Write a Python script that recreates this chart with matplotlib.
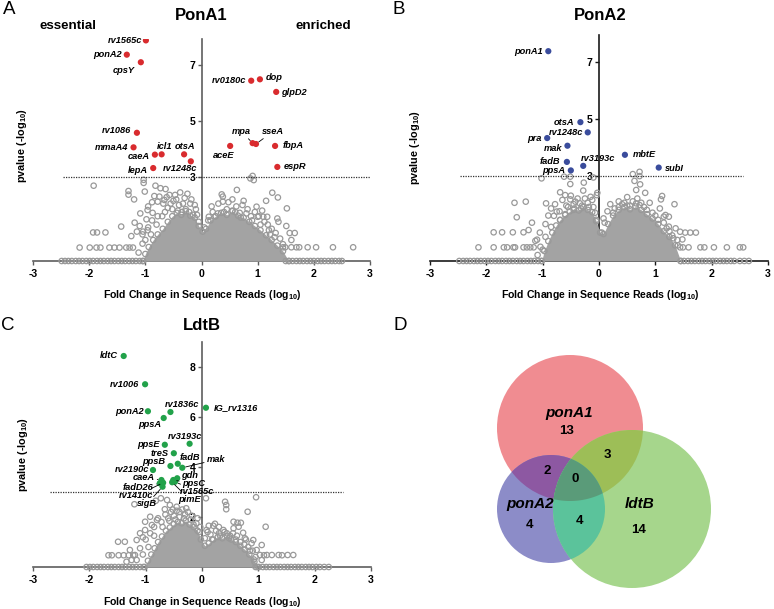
import numpy as np
import matplotlib
matplotlib.use('Agg')
import matplotlib.pyplot as plt
from matplotlib.patches import Circle, Polygon

plt.rcParams['font.family'] = ['Liberation Sans', 'DejaVu Sans']
plt.rcParams['mathtext.fontset'] = 'custom'
plt.rcParams['mathtext.rm'] = 'Liberation Sans:bold'
plt.rcParams['mathtext.bf'] = 'Liberation Sans:bold'
plt.rcParams['axes.unicode_minus'] = False

W, H = 774, 609

# ---------------- data ----------------
# PonA1 hits (fold change log10, -log10 pvalue)
ponA1_genes = ['rv1565c', 'ponA2', 'cpsY', 'rv0180c', 'dop', 'glpD2', 'rv1086', 'mmaA4', 'caeA',
               'icl1', 'otsA', 'rv1248c', 'lepA', 'aceE', 'mpa', 'sseA', 'fbpA', 'espR']
ponA1_x = [-0.99, -1.33, -1.08, 0.885, 1.04, 1.33, -1.15, -1.21, -0.83,
           -0.71, -0.31, -0.19, -0.86, 0.51, 0.91, 0.97, 1.31, 1.35]
ponA1_y = [7.88, 7.37, 7.10, 6.44, 6.49, 6.04, 4.58, 4.06, 3.80,
           3.81, 3.81, 3.56, 3.32, 4.11, 4.21, 4.18, 4.11, 3.36]

ponA2_genes = ['ponA1', 'otsA', 'rv1248c', 'pra', 'mak', 'fadB', 'ppsA', 'rv3193c', 'mbtE', 'subI']
ponA2_x = [-0.90, -0.33, -0.20, -0.92, -0.56, -0.57, -0.50, -0.28, 0.46, 1.06]
ponA2_y = [7.39, 4.89, 4.53, 4.33, 4.06, 3.49, 3.19, 3.35, 3.74, 3.29]

ldtB_genes = ['ldtC', 'rv1006', 'rv1836c', 'IG_rv1316', 'ponA2', 'ppsA', 'rv3193c', 'ppsE', 'treS',
              'fadB', 'mak', 'ppsB', 'rv2190c', 'caeA', 'fadD26', 'rv1410c', 'sigB',
              'gdh', 'ppsC', 'rv1565c', 'pimE']
ldtB_x = [-1.39, -1.01, -0.56, 0.07, -0.96, -0.68, -0.22, -0.66, -0.50,
          -0.43, -0.35, -0.56, -0.87, -0.72, -0.75, -0.69, -0.70,
          -0.44, -0.51, -0.48, -0.53]
ldtB_y = [8.44, 7.31, 6.20, 6.37, 6.23, 5.96, 4.93, 4.89, 4.55,
          4.13, 3.97, 4.04, 3.88, 3.48, 3.35, 3.37, 3.21,
          3.55, 3.48, 3.41, 3.39]

# background genes (grey rings)
a_bg_x = [-1.92, -1.30, -1.30, -1.03, -1.03, -0.82, -0.73, -0.64, -1.01, -1.20, -0.84, -0.78, -0.66,
          -0.57, -0.47, -0.96, -1.09, -0.98, -0.87, -1.43, -1.93, -1.86, -1.71, -1.15, -1.04, -0.96,
          -1.25, -1.19, -1.10, -2.17, -1.99, -1.87, -1.80, -1.64, -1.55, -1.46, -1.34, -1.28, -1.22,
          -1.12, -1.05, 0.91, 0.87, 0.93, 0.63, 1.26, 1.36, 0.38, 0.38, 0.55, 1.15, 1.52, 0.73, 0.98,
          1.08, 1.00, 1.10, 1.17, 1.35, 1.37, 1.51, 0.29, 0.13, 0.36, 1.45, 1.49, 1.60, 1.69, 1.74,
          1.89, 2.04, 2.34, 2.70, 1.57, 1.66, 1.60, -0.50, -0.40, -0.30, -0.20, -0.10, -0.60, -0.70,
          -0.35, -0.15, -0.05, 0.20, 0.45, 0.60, 0.80, 0.90, 1.05, 1.20, 1.30, 0.05, -0.80, -0.90, -1.00,
          -0.95, -0.88, -0.75, -0.68, -0.62, -0.55, -0.52, -0.45, -0.42, -0.38, -0.33, -0.28, -0.25,
          -0.22, -0.18, -0.12, -0.08, -0.65, -0.78, -0.88, -0.95, -1.05, 0.12, 0.18, 0.25, 0.30, 0.40,
          0.48, 0.55, 0.62, 0.68, 0.75, 0.82, 0.88, 0.95, 1.02, 1.12, 1.18, 1.25, 1.32, 1.40, 1.45,
          1.22, 0.70]
a_bg_y = [2.69, 2.50, 2.37, 2.90, 2.79, 2.69, 2.60, 2.57, 2.48, 2.20, 2.32, 2.12, 2.18,
          2.36, 2.36, 1.82, 1.70, 1.49, 1.72, 1.23, 1.02, 1.02, 1.02, 1.05, 1.05, 1.10,
          0.89, 1.37, 1.25, 0.48, 0.48, 0.48, 0.48, 0.48, 0.48, 0.48, 0.48, 0.48, 0.48,
          0.30, 0.62, 3.04, 2.95, 2.89, 2.54, 2.44, 2.27, 2.30, 2.12, 2.20, 2.15, 1.88, 2.00, 1.94,
          1.80, 1.58, 1.58, 1.58, 1.52, 1.40, 1.25, 1.70, 1.58, 2.38, 0.49, 0.49, 0.49, 0.49, 0.49,
          0.49, 0.49, 0.49, 0.49, 1.00, 1.00, 0.75, 2.15, 2.00, 2.25, 2.05, 1.85, 1.90, 1.60,
          1.75, 1.65, 1.40, 1.75, 1.85, 1.75, 1.70, 1.45, 1.30, 1.10, 0.85, 1.20, 1.30, 0.95, 0.75,
          1.95, 2.10, 2.30, 2.05, 2.28, 2.05, 1.85, 2.20, 1.80, 2.45, 2.05, 1.85, 2.40,
          1.75, 2.20, 2.00, 1.65, 1.75, 1.60, 1.45, 1.20, 0.95, 1.45, 1.95, 1.60, 2.05, 1.75,
          2.10, 1.80, 1.95, 1.72, 2.15, 1.85, 1.60, 1.75, 1.60, 1.40, 1.30, 1.15, 1.00, 0.80, 0.60,
          0.95, 1.55]
a_zero_x = [-2.49, -2.43, -2.37, -2.31, -2.24, -2.18, -2.12, -2.05, -1.99, -1.93, -1.86, -1.80, -1.74,
            -1.67, -1.61, -1.55, -1.48, -1.42, -1.36, -1.29, -1.23, -1.17, -1.10, -1.04,
            1.50, 1.56, 1.62, 1.69, 1.75, 1.81, 1.88, 1.94, 2.00, 2.07, 2.13, 2.19, 2.26, 2.32, 2.38, 2.45, 2.50]
# outline of the dense core of the cloud
a_core_x = [-1.05, -1.00, -0.94, -0.86, -0.78, -0.69, -0.60, -0.52, -0.44, -0.36, -0.28, -0.20, -0.12,
            -0.05, 0.02, 0.08, 0.16, 0.25, 0.35, 0.45, 0.55, 0.65, 0.75, 0.85, 0.95, 1.05, 1.15, 1.25,
            1.35, 1.45, 1.55]
a_core_y = [0.0, 0.25, 0.50, 0.75, 0.95, 1.15, 1.40, 1.60, 1.72, 1.65, 1.78, 1.62, 1.55,
            1.25, 1.05, 1.15, 1.45, 1.60, 1.72, 1.65, 1.78, 1.62, 1.55, 1.40, 1.25, 1.10, 0.92, 0.75,
            0.55, 0.35, 0.0]

b_bg_x = [-1.02, -0.62, -0.51, -0.51, -0.27, -0.69, -0.60, -0.51, -0.42, -0.34, -0.28, -0.15, -0.04,
          -1.50, -1.30, -0.94, -1.46, -1.19, -1.87, -1.72, -1.53, -1.34, -1.25, -2.14, -1.87, -1.69,
          -1.63, -1.52, -1.49, -1.34, -1.28, -1.22, -1.16, -1.13, -1.04, -1.09, -0.80, -0.69, -0.75,
          0.60, 0.72, 0.72, 0.63, 0.73, 0.66, 0.82, 1.12, 1.10, 1.34, 0.41, 0.66, 0.72, 1.18, 1.24,
          1.15, 1.24, 1.36, 1.44, 1.53, 1.62, 1.72, 1.39, 1.48, 1.44, 1.49, 1.59, 1.80, 1.87, 2.04,
          2.27, 2.50, 2.56, -0.10, -0.03, -0.55, -0.45, -0.30, -0.20, -0.10, -0.60, -0.05, 0.05, 0.10,
          0.25, 0.35, 0.50, 0.60, 0.80, 0.95, 1.05, 1.20, 1.30, -0.85, -0.95, -1.00,
          -0.95, -0.90, -0.85, -0.78, -0.70, -0.65, -0.58, -0.50, -0.45, -0.38, -0.32, -0.25, -0.18,
          -0.12, -0.07, -1.05, -1.10, 0.08, 0.15, 0.20, 0.28, 0.35, 0.45, 0.50, 0.55, 0.68, 0.75,
          0.85, 0.90, 1.00, 1.08, 1.15, 1.25, 1.32, 1.40]
b_bg_y = [2.91, 2.97, 2.97, 2.71, 2.76, 2.42, 2.32, 2.17, 2.09, 2.03, 2.48, 2.26, 2.32,
          2.05, 2.09, 2.03, 1.54, 1.35, 1.01, 1.01, 1.01, 1.01, 1.09, 0.48, 0.48, 0.48,
          0.48, 0.48, 0.48, 0.48, 0.48, 0.48, 0.48, 0.71, 0.50, 0.21, 1.59, 1.44, 1.74,
          3.06, 3.14, 2.99, 2.82, 2.70, 2.50, 2.40, 2.29, 2.17, 2.00, 2.00, 2.03, 1.97, 1.62, 1.56,
          1.56, 1.21, 1.15, 1.03, 1.00, 1.00, 1.00, 0.74, 0.76, 0.48, 0.48, 0.48, 0.48, 0.48, 0.48,
          0.48, 0.48, 0.48, 2.94, 2.40, 1.90, 2.00, 1.95, 2.05, 1.90, 1.65, 1.45, 1.00, 1.35,
          1.70, 1.90, 1.95, 2.10, 1.90, 1.70, 1.45, 1.15, 0.90, 1.20, 0.85, 0.40,
          1.30, 1.60, 1.85, 2.00, 1.75, 2.15, 1.95, 2.30, 1.80, 2.20, 1.85, 2.20, 1.90,
          2.15, 1.70, 1.00, 0.75, 1.50, 1.75, 2.00, 1.85, 2.10, 2.05, 2.25, 1.95, 2.20, 2.05,
          1.80, 2.05, 1.60, 1.85, 1.35, 1.05, 0.80, 0.55]
b_zero_x = [-2.48, -2.41, -2.35, -2.29, -2.22, -2.16, -2.10, -2.03, -1.97, -1.91, -1.84, -1.78, -1.72,
            -1.65, -1.59, -1.53, -1.46, -1.40, -1.34, -1.27, -1.21, -1.15, -1.08, -1.02,
            1.45, 1.51, 1.58, 1.64, 1.70, 1.77, 1.83, 1.89, 1.96, 2.02, 2.08, 2.15, 2.21, 2.27, 2.34,
            2.40, 2.50, 2.58, 2.66]
b_core_x = [-1.02, -0.97, -0.90, -0.83, -0.76, -0.69, -0.60, -0.52, -0.44, -0.36, -0.28, -0.20, -0.12,
            -0.05, 0.02, 0.08, 0.16, 0.25, 0.35, 0.45, 0.55, 0.65, 0.75, 0.85, 0.95, 1.05, 1.15, 1.25,
            1.35, 1.45]
b_core_y = [0.0, 0.35, 0.70, 1.00, 1.25, 1.45, 1.62, 1.75, 1.85, 1.78, 1.90, 1.80, 1.72,
            1.40, 1.00, 0.95, 1.30, 1.60, 1.80, 1.90, 1.82, 1.92, 1.80, 1.65, 1.50, 1.30, 1.05, 0.85,
            0.55, 0.0]

c_bg_x = [-1.20, -0.82, -0.73, -0.62, -0.57, -0.45, -0.66, -0.92, -0.80, -1.01, -0.89, -1.01, -1.10,
          -1.05, -1.16, -1.49, -1.37, -1.28, -1.19, -1.25, -1.16, -1.34, -1.66, -1.60, -1.48, -1.39,
          -1.30, -1.22, 0.07, 0.96, 0.41, 0.43, 0.43, 0.81, 1.13, 0.08, 0.56, 0.63, 0.69, 0.65, 0.23,
          0.20, 0.38, 0.44, 0.56, 0.73, 0.76, 0.91, 0.88, 1.06, 0.97, 1.03, 1.15, 1.24, 1.36, 1.52,
          1.62, 0.93, 1.06, 1.10, 1.42, -0.60, -0.50, -0.40, -0.30, -0.20, -0.10, -0.70, -0.45, -0.35,
          -0.25, -0.55, -0.05, 0.05, 0.15, 0.30, 0.50, 0.60, 0.75, 0.85, -0.85, -0.95, -1.05,
          -1.00, -0.92, -0.85, -0.78, -0.72, -0.65, -0.58, -0.52, -0.47, -0.40, -0.32, -0.28, -0.18,
          -0.15, -0.08, -0.03, -1.10, 0.10, 0.18, 0.25, 0.32, 0.40, 0.48, 0.55, 0.62, 0.68, 0.78,
          0.82, 0.90, 0.95, 0.30, 0.12]
c_bg_y = [2.51, 2.65, 2.75, 2.68, 2.48, 2.41, 2.31, 2.01, 1.88, 1.81, 1.68, 1.48, 1.35,
          1.19, 1.08, 1.01, 1.01, 0.68, 0.48, 0.28, 0.28, 0.21, 0.47, 0.47, 0.47, 0.47,
          0.47, 0.47, 2.75, 2.79, 2.61, 2.48, 2.31, 2.21, 1.61, 1.48, 1.81, 1.77, 1.77, 1.61, 1.73,
          1.65, 1.48, 1.35, 1.55, 1.37, 1.15, 1.08, 0.95, 0.88, 0.68, 0.48, 0.48, 0.48, 0.48, 0.48,
          0.48, 0.21, 0.28, 0.47, 0.47, 1.95, 2.05, 2.00, 2.10, 1.90, 1.75, 1.60, 2.25, 2.30,
          2.20, 2.20, 1.40, 1.15, 1.30, 1.35, 1.25, 1.10, 0.90, 0.65, 1.25, 0.80, 0.50,
          1.10, 1.35, 1.60, 1.95, 1.80, 2.10, 1.85, 2.30, 1.90, 2.20, 1.95, 2.35, 2.05,
          1.70, 1.95, 1.60, 0.75, 1.40, 1.10, 1.45, 1.25, 1.40, 1.15, 1.35, 1.25, 1.00, 1.10,
          0.80, 0.65, 0.40, 1.60, 1.65]
c_zero_x = [-2.05, -1.99, -1.93, -1.86, -1.80, -1.74, -1.67, -1.61, -1.55, -1.48, -1.42, -1.36, -1.29,
            -1.23, -1.17, -1.10, -1.04, 0.95, 1.01, 1.08, 1.14, 1.20, 1.27, 1.33, 1.39, 1.46, 1.52,
            1.58, 1.65, 1.71, 1.77, 1.84, 1.90, 1.96, 2.03, 2.09, 2.17, 2.25]
c_core_x = [-1.02, -0.96, -0.90, -0.84, -0.78, -0.71, -0.64, -0.57, -0.50, -0.43, -0.36, -0.29, -0.22,
            -0.15, -0.08, -0.02, 0.05, 0.12, 0.20, 0.28, 0.36, 0.44, 0.52, 0.60, 0.68, 0.76, 0.84,
            0.92, 0.98]
c_core_y = [0.0, 0.25, 0.50, 0.75, 1.00, 1.22, 1.45, 1.58, 1.72, 1.80, 1.75, 1.85, 1.70,
            1.60, 1.45, 1.10, 0.85, 0.95, 1.10, 1.20, 1.15, 1.25, 1.10, 1.00, 0.85, 0.70, 0.50,
            0.30, 0.0]

# Venn counts per region (ponA1, ponA2, ldtB membership)
venn_sets = ['ponA1', 'ponA2', 'ldtB']
venn_regions = ['100', '010', '001', '110', '101', '011', '111']
venn_counts = [13, 4, 14, 2, 3, 4, 0]

# ---------------- layout ----------------
# label offsets in points: (dx, dy, ha, leader line)
lab_a = {'rv1565c': (-3, 0, 'right', False), 'ponA2': (-3.6, 0, 'right', False),
         'cpsY': (-4.3, -5.8, 'right', False), 'rv0180c': (-3.8, 0, 'right', False),
         'dop': (4.3, 1, 'left', False), 'glpD2': (3.8, -0.7, 'left', False),
         'rv1086': (-4, 1.4, 'right', False), 'mmaA4': (-3.8, 0, 'right', False),
         'caeA': (-3.6, -1.7, 'right', False), 'icl1': (2.2, 5.3, 'center', False),
         'otsA': (0.7, 5.3, 'center', False), 'rv1248c': (-7.8, -5.3, 'center', False),
         'lepA': (-3.8, -1.7, 'right', False), 'aceE': (-4.6, -6.7, 'center', False),
         'mpa': (-8, 8.4, 'center', True), 'sseA': (12.4, 9.1, 'center', True),
         'fbpA': (5.3, 0, 'left', False), 'espR': (4.6, 0, 'left', False)}
lab_b = {'ponA1': (-3.8, -0.5, 'right', False), 'otsA': (-4.5, -0.5, 'right', False),
         'rv1248c': (-3.6, 0, 'right', False), 'pra': (-3.8, 0, 'right', False),
         'mak': (-3.8, -2, 'right', False), 'fadB': (-4.5, 0, 'right', False),
         'ppsA': (-3.8, 0, 'right', False), 'rv3193c': (-1.4, 5.3, 'left', False),
         'mbtE': (6, 0.5, 'left', False), 'subI': (4.5, -0.5, 'left', False)}
lab_c = {'ldtC': (-4, 0, 'right', False), 'rv1006': (-4, 0, 'right', False),
         'rv1836c': (8.4, 5.3, 'center', False), 'IG_rv1316': (5.5, 0, 'left', False),
         'ponA2': (-3, 0, 'right', False), 'ppsA': (-2, -4.6, 'right', False),
         'rv3193c': (-3, 5.5, 'center', False), 'ppsE': (-4, 0, 'right', False),
         'treS': (-4, 0, 'right', False), 'fadB': (1.7, 4.8, 'left', False),
         'mak': (17.7, 5.8, 'left', True), 'ppsB': (-3.6, 2.9, 'right', False),
         'rv2190c': (-3, 0, 'right', False), 'caeA': (-5, 1.5, 'right', True),
         'fadD26': (-4.5, -3.3, 'right', True), 'rv1410c': (-7, -9.4, 'right', True),
         'sigB': (-4, -12.3, 'right', True), 'gdh': (2.8, 2.3, 'left', False),
         'ppsC': (6.2, -2.8, 'left', True), 'rv1565c': (3.5, -7.0, 'left', True),
         'pimE': (4.3, -12.2, 'left', True)}

fig = plt.figure(figsize=(W / 100, H / 100), dpi=100)


def ftext(x, y, s, **kw):
    fig.text(x / W, 1 - y / H, s, ha='center', va='center', **kw)


def volcano(left, right, top, bottom, ylo, yhi, yticks, axcol,
            core_x, core_y, bg_x, bg_y, zero_x, hx, hy, genes, labels, hcol, thr):
    ax = fig.add_axes([left / W, 1 - bottom / H, (right - left) / W, (bottom - top) / H])
    ax.set_xlim(-3, 3)
    ax.set_ylim(ylo, yhi)
    ax.patch.set_visible(False)
    for s in ['top', 'right']:
        ax.spines[s].set_visible(False)
    ax.spines['left'].set_position(('data', 0))
    ax.spines['bottom'].set_position(('data', 0))
    ax.spines['left'].set_bounds(0, yhi)
    for s in ['left', 'bottom']:
        ax.spines[s].set_color(axcol)
        ax.spines[s].set_linewidth(1.2)
    ax.set_xticks([-3, -2, -1, 0, 1, 2, 3])
    ax.set_yticks(yticks)
    ax.tick_params(direction='out', length=3, width=1, color=axcol, labelsize=7.6)
    ax.tick_params(axis='y', pad=1.5)
    ax.tick_params(axis='x', pad=3)
    for lab in ax.get_xticklabels() + ax.get_yticklabels():
        lab.set_fontweight('bold')

    ax.hlines(3, thr[0], thr[1], colors='#333333', linestyles=(0, (1, 1)), lw=0.9, zorder=4)
    ax.fill_between(core_x, 0, core_y, color='#a3a3a3', lw=0, zorder=3)
    ring = dict(s=15, facecolors='none', edgecolors='#999999', linewidths=0.9, zorder=3)
    ax.scatter(core_x, core_y, **ring)
    ax.scatter(bg_x, bg_y, **ring)
    ax.scatter(zero_x, [0] * len(zero_x), **ring)
    ax.scatter(hx, hy, s=20, color=hcol, edgecolors='none', zorder=5)

    for g, x, y in zip(genes, hx, hy):
        dx, dy, ha, line = labels[g]
        kw = {}
        if line:
            kw['arrowprops'] = dict(arrowstyle='-', color='black', lw=0.6, shrinkA=0, shrinkB=2.5)
        ax.annotate(g, (x, y), xytext=(dx, dy), textcoords='offset points', ha=ha, va='center',
                    fontsize=6.7, fontweight='bold', style='italic', zorder=6, **kw)
    return ax


volcano(33, 370, 39, 269.4, -0.3, 7.93, [1, 3, 5, 7], '#5e5e5e',
        a_core_x, a_core_y, a_bg_x, a_bg_y, a_zero_x, ponA1_x, ponA1_y, ponA1_genes, lab_a,
        '#d92b2e', (-2.47, 3.0))
volcano(430, 768, 35, 269.5, -0.3, 7.96, [1, 3, 5, 7], '#1a1a1a',
        b_core_x, b_core_y, b_bg_x, b_bg_y, b_zero_x, ponA2_x, ponA2_y, ponA2_genes, lab_b,
        '#3a4c9c', (-2.47, 2.55))
volcano(33, 371, 342, 574.5, -0.3, 9.0, [2, 4, 6, 8], '#5e5e5e',
        c_core_x, c_core_y, c_bg_x, c_bg_y, c_zero_x, ldtB_x, ldtB_y, ldtB_genes, lab_c,
        '#22a24a', (-2.7, 2.5))

# titles, letters and axis labels
for s, x, y in [('A', 9, 10), ('B', 399, 10), ('C', 8, 325), ('D', 400, 325)]:
    ftext(x, y, s, fontsize=13.5)
for s, x, y in [('PonA1', 201, 15), ('PonA2', 600, 15), ('LdtB', 202, 325)]:
    ftext(x, y, s, fontsize=12, fontweight='bold')
ftext(68, 26, 'essential', fontsize=9.6, fontweight='bold')
ftext(323, 26, 'enriched', fontsize=9.6, fontweight='bold')
xl = r'Fold Change in Sequence Reads (log$_{\mathbf{10}}$)'
yl = r'pvalue (-log$_{\mathbf{10}}$)'
for x, y in [(202, 295), (600, 295), (202, 602)]:
    ftext(x, y, xl, fontsize=7.6, fontweight='bold')
for x, y in [(22, 145), (415, 147), (23, 454)]:
    ftext(x, y, yl, fontsize=7.8, fontweight='bold', rotation=90)

# ---------------- Venn ----------------
axd = fig.add_axes([390 / W, 0, (W - 390) / W, 309 / H])
axd.set_xlim(390, W)
axd.set_ylim(H, 300)
axd.axis('off')

cen = {'ponA1': (570, 428, 73), 'ponA2': (551, 509, 54), 'ldtB': (632, 509, 79)}
base = {'ponA1': '#f08c91', 'ponA2': '#8c8cc8', 'ldtB': '#a6d68c'}


def circ(name, **kw):
    x, y, r = cen[name]
    return Circle((x, y), r, transform=axd.transData, lw=0, **kw)


for n in venn_sets:
    axd.add_patch(circ(n, color=base[n]))
for a, b, col in [('ponA1', 'ponA2', '#8d58a2'), ('ponA1', 'ldtB', '#9dbe57'),
                  ('ponA2', 'ldtB', '#5bc39b')]:
    p = circ(b, color=col)
    axd.add_patch(p)
    p.set_clip_path(circ(a))

# lens of ponA1 & ponA2 used to clip the triple overlap
th = np.linspace(0, 2 * np.pi, 720)
(x1, y1, r1), (x2, y2, r2) = cen['ponA1'], cen['ponA2']
p1 = np.c_[x1 + r1 * np.cos(th), y1 + r1 * np.sin(th)]
p2 = np.c_[x2 + r2 * np.cos(th), y2 + r2 * np.sin(th)]
pts = np.vstack([p1[np.hypot(p1[:, 0] - x2, p1[:, 1] - y2) <= r2],
                 p2[np.hypot(p2[:, 0] - x1, p2[:, 1] - y1) <= r1]])
c0 = pts.mean(axis=0)
pts = pts[np.argsort(np.arctan2(pts[:, 1] - c0[1], pts[:, 0] - c0[0]))]
lens = Polygon(pts, closed=True, transform=axd.transData)
p = circ('ldtB', color='#5a9b79')
axd.add_patch(p)
p.set_clip_path(lens)

name_pos = {'ponA1': (569, 413), 'ponA2': (530, 504), 'ldtB': (640, 504)}
for n in venn_sets:
    axd.text(*name_pos[n], n, ha='center', va='center', fontsize=11, fontweight='bold', style='italic')
count_pos = {'100': (567, 431), '010': (530, 525), '001': (639, 530), '110': (547, 471),
             '101': (607, 455), '011': (579, 521), '111': (575, 479)}
for reg, cnt in zip(venn_regions, venn_counts):
    axd.text(*count_pos[reg], str(cnt), ha='center', va='center', fontsize=9.5, fontweight='bold')

fig.savefig('out.png', dpi=100)
